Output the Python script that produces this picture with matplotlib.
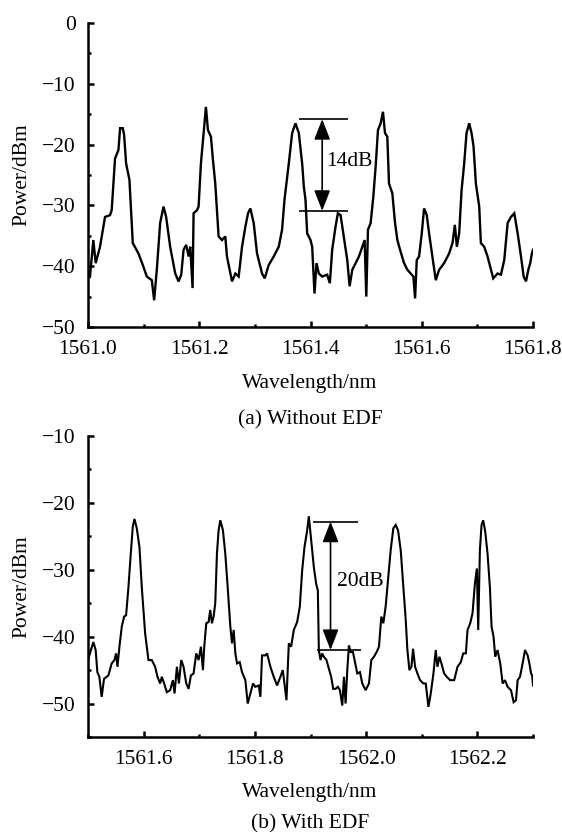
import matplotlib
matplotlib.use('Agg')
import matplotlib.pyplot as plt
from matplotlib.ticker import MultipleLocator, FormatStrFormatter

plt.rcParams['font.family'] = ['Liberation Serif', 'DejaVu Serif']
plt.rcParams['axes.unicode_minus'] = True

# ---------------- data: (a) Without EDF ----------------
wl_a = [1561.000, 1561.0036, 1561.0096, 1561.0138, 1561.0216, 1561.0306, 1561.0396, 1561.0426,
        1561.0486, 1561.0547, 1561.0577, 1561.0625, 1561.0649, 1561.0685, 1561.0745, 1561.0805,
        1561.0907, 1561.0997, 1561.1057, 1561.1147, 1561.1189, 1561.1237, 1561.1297, 1561.1357,
        1561.1405, 1561.1477, 1561.1568, 1561.1628, 1561.1676, 1561.1718, 1561.1766, 1561.1808,
        1561.1838, 1561.1880, 1561.1898, 1561.1958, 1561.1988, 1561.2030, 1561.2078, 1561.2120,
        1561.2156, 1561.2210, 1561.2246, 1561.2288, 1561.2348, 1561.2408, 1561.2468, 1561.2498,
        1561.2559, 1561.2589, 1561.2649, 1561.2709, 1561.2769, 1561.2829, 1561.2877, 1561.2919,
        1561.2979, 1561.3039, 1561.3129, 1561.3177, 1561.3249, 1561.3339, 1561.3429, 1561.3489,
        1561.3532, 1561.3610, 1561.3670, 1561.3730, 1561.3790, 1561.3850,
        1561.3880, 1561.3910, 1561.3940, 1561.4000, 1561.4030, 1561.4072, 1561.4108, 1561.4150,
        1561.4210, 1561.4300, 1561.4348, 1561.4390, 1561.4450, 1561.4492, 1561.4541, 1561.4589,
        1561.4661, 1561.4703, 1561.4751, 1561.4811, 1561.4871, 1561.4931, 1561.4973, 1561.5003,
        1561.5033, 1561.5081, 1561.5129, 1561.5171, 1561.5213, 1561.5261, 1561.5303, 1561.5339,
        1561.5381, 1561.5411, 1561.5471, 1561.5520, 1561.5562, 1561.5610, 1561.5682, 1561.5742,
        1561.5802, 1561.5850, 1561.5880, 1561.5910, 1561.5952, 1561.6000, 1561.6042, 1561.6090,
        1561.6132, 1561.6192, 1561.6252, 1561.6312, 1561.6402, 1561.6492, 1561.6553, 1561.6595,
        1561.6631, 1561.6673, 1561.6715, 1561.6763, 1561.6805, 1561.6853, 1561.6895, 1561.6931,
        1561.6973, 1561.7033, 1561.7063, 1561.7123, 1561.7183, 1561.7231, 1561.7285, 1561.7363,
        1561.7423, 1561.7483, 1561.7544, 1561.7604, 1561.7664, 1561.7724, 1561.7784, 1561.7832,
        1561.7874, 1561.7916, 1561.7950, 1561.7980, 1561.8000]
pw_a = [-41.5, -41.7, -35.7, -39.5, -36.8, -31.9, -31.6, -30.8,
        -22.3, -20.9, -17.3, -17.3, -18.4, -23.1, -25.8, -36.2,
        -37.9, -40.1, -41.7, -42.3, -45.6, -40.6, -32.9, -30.2,
        -31.9, -36.8, -41.2, -42.5, -41.4, -37.3, -36.5, -38.4,
        -36.8, -43.6, -31.3, -30.8, -30.2, -23.1, -18.1, -13.8,
        -17.6, -18.7, -22.5, -26.4, -35.1, -35.7, -35.1, -38.4,
        -41.2, -42.5, -41.2, -41.7, -36.8, -33.5, -31.3, -30.5,
        -32.9, -37.9, -41.2, -42.0, -39.8, -38.4, -36.8, -34.0,
        -29.1, -23.1, -18.1, -16.5, -18.1, -23.1,
        -26.9, -29.1, -34.6, -35.7, -36.8, -44.5, -39.5, -41.2,
        -41.7, -41.4, -42.8, -37.3, -33.5, -31.3, -31.6, -34.6,
        -39.0, -43.3, -40.6, -39.5, -38.4, -36.8, -35.7, -45.0,
        -34.0, -32.9, -28.6, -23.6, -17.6, -16.5, -14.6, -18.1,
        -18.7, -26.4, -28.0, -32.9, -35.7, -37.3, -39.5, -40.6,
        -41.2, -41.7, -45.3, -39.0, -38.4, -34.6, -30.5, -31.6,
        -34.6, -38.4, -42.3, -40.6, -39.5, -37.9, -36.2, -33.2,
        -36.8, -34.6, -27.6, -23.1, -18.1, -16.5, -18.1, -20.3,
        -26.4, -30.2, -36.2, -36.8, -38.4, -40.1, -42.0, -41.2,
        -41.4, -39.0, -32.9, -31.9, -31.3, -34.6, -38.4, -41.7,
        -42.5, -40.6, -39.5, -37.9, -37.3]

# ---------------- data: (b) With EDF ----------------
wl_b = [1561.5000, 1561.5036, 1561.5096, 1561.5138, 1561.5168, 1561.5204, 1561.5246, 1561.5288,
        1561.5366, 1561.5426, 1561.5474, 1561.5505, 1561.5529, 1561.5565, 1561.5607, 1561.5649,
        1561.5685, 1561.5727, 1561.5769, 1561.5805, 1561.5835, 1561.5877, 1561.5925, 1561.5967,
        1561.6027, 1561.6087, 1561.6147, 1561.6207, 1561.6249, 1561.6297, 1561.6327, 1561.6369,
        1561.6417, 1561.6477, 1561.6526, 1561.6556, 1561.6598, 1561.6634, 1561.6676, 1561.6718,
        1561.6766, 1561.6808, 1561.6850, 1561.6898, 1561.6946, 1561.6988, 1561.7030, 1561.7066,
        1561.7090, 1561.7126, 1561.7168, 1561.7198, 1561.7228, 1561.7258, 1561.7288, 1561.7318,
        1561.7348, 1561.7378, 1561.7426, 1561.7468, 1561.7511, 1561.7559, 1561.7589, 1561.7619,
        1561.7649, 1561.7679, 1561.7727, 1561.7769, 1561.7829, 1561.7871, 1561.7919, 1561.7967,
        1561.8009, 1561.8069, 1561.8099, 1561.8129, 1561.8189, 1561.8219, 1561.8279, 1561.8339,
        1561.8399, 1561.8459, 1561.8502, 1561.8568, 1561.8610, 1561.8652, 1561.8700, 1561.8760,
        1561.8808, 1561.8850, 1561.8892, 1561.8940, 1561.8970, 1561.9012, 1561.9060, 1561.9102,
        1561.9132,
        1561.9150, 1561.9180, 1561.9210, 1561.9240, 1561.9288, 1561.9330, 1561.9372, 1561.9408,
        1561.9450, 1561.9492, 1561.9529, 1561.9571, 1561.9601, 1561.9631, 1561.9661, 1561.9691,
        1561.9721, 1561.9763, 1561.9799, 1561.9841, 1561.9889, 1561.9931, 1561.9991, 1562.0051,
        1562.0093, 1562.0141, 1562.0189, 1562.0231, 1562.0273, 1562.0309, 1562.0351, 1562.0393,
        1562.0441, 1562.0489, 1562.0532, 1562.0574, 1562.0622, 1562.0670, 1562.0712, 1562.0742,
        1562.0778, 1562.0814, 1562.0844, 1562.0880, 1562.0922, 1562.0970, 1562.1030, 1562.1072,
        1562.1120, 1562.1162, 1562.1210, 1562.1252, 1562.1282, 1562.1318, 1562.1354, 1562.1402,
        1562.1450, 1562.1510, 1562.1583, 1562.1643, 1562.1703, 1562.1745, 1562.1793, 1562.1823,
        1562.1871, 1562.1913, 1562.1955, 1562.1991, 1562.2015, 1562.2045, 1562.2075, 1562.2105,
        1562.2141, 1562.2183, 1562.2225, 1562.2255, 1562.2291, 1562.2321, 1562.2363, 1562.2411,
        1562.2454, 1562.2496, 1562.2544, 1562.2604, 1562.2652, 1562.2694, 1562.2724, 1562.2766,
        1562.2814, 1562.2856, 1562.2904, 1562.2935, 1562.2965, 1562.2985, 1562.3000]
pw_b = [-43.5, -42.5, -40.8, -42.0, -45.3, -46.0, -49.0, -46.3,
        -45.8, -44.0, -43.5, -42.5, -44.5, -41.5, -38.5, -37.0,
        -36.8, -32.6, -27.6, -23.6, -22.4, -23.8, -26.6, -32.6,
        -39.5, -43.5, -43.5, -44.5, -46.0, -47.0, -46.0, -47.0,
        -48.3, -48.0, -46.5, -48.5, -44.5, -47.0, -43.5, -44.5,
        -47.0, -47.8, -45.8, -45.5, -42.5, -43.5, -41.5, -45.0,
        -41.5, -38.0, -37.8, -36.0, -38.0, -37.0, -35.0, -27.6,
        -24.1, -22.6, -24.1, -27.6, -32.6, -38.5, -41.0, -39.0,
        -42.5, -44.0, -43.8, -45.3, -46.5, -50.0, -48.5, -47.0,
        -47.5, -47.3, -49.0, -42.8, -42.8, -42.5, -44.5, -46.0,
        -47.3, -46.0, -45.0, -49.5, -41.0, -41.5, -39.0, -37.8,
        -35.5, -30.1, -26.6, -24.1, -22.0, -25.6, -29.6, -32.1,
        -33.1,
        -42.0, -43.5, -42.5, -43.0, -43.5, -44.8, -46.0, -47.8,
        -47.8, -47.5, -48.0, -50.3, -46.0, -50.0, -45.0, -41.3,
        -42.3, -42.3, -43.8, -45.5, -45.3, -47.0, -48.0, -47.0,
        -43.5, -43.0, -42.3, -41.5, -37.0, -38.0, -35.5, -31.6,
        -27.1, -23.8, -23.3, -24.1, -27.1, -32.6, -37.5, -42.0,
        -45.0, -44.5, -41.8, -44.5, -45.5, -46.5, -47.0, -47.0,
        -50.5, -48.5, -45.5, -42.0, -44.5, -43.0, -44.0, -45.5,
        -46.0, -46.5, -46.5, -44.5, -43.8, -42.5, -42.5, -39.0,
        -38.0, -36.5, -32.1, -29.8, -39.0, -27.1, -23.3, -22.6,
        -24.3, -27.6, -32.6, -38.5, -40.0, -43.0, -42.0, -44.0,
        -47.0, -46.5, -47.5, -48.0, -49.8, -49.5, -46.5, -46.0,
        -44.0, -42.0, -42.8, -44.0, -45.5, -45.8, -47.3]

# annotation values
ann_a = dict(x0=1561.379, x1=1561.467, top=-15.8, bot=-30.9, xarr=1561.421,
             label="14dB", xt=1561.428, yt=-22.8)
ann_b = dict(x0=1561.905, x1=1561.985, x0b=1561.912, x1b=1561.990, top=-22.8, bot=-42.0,
             xarr=1561.936, label="20dB", xt=1561.947, yt=-31.8)

FS = 15.5
fig = plt.figure(figsize=(5.62, 8.32), dpi=100)
ax1 = fig.add_axes([88/562, 1-327/832, 445/562, 304/832])
ax2 = fig.add_axes([88/562, 1-737/832, 445/562, 301/832])


def style(ax):
    for s in ['top', 'right']:
        ax.spines[s].set_visible(False)
    for s in ['left', 'bottom']:
        ax.spines[s].set_linewidth(1.8)
    ax.tick_params(which='major', direction='in', length=4, width=1.8, labelsize=FS)
    ax.tick_params(axis='x', which='major', pad=9)
    ax.tick_params(axis='y', which='major', pad=9)
    ax.tick_params(which='minor', direction='in', length=2, width=1.8)
    ax.xaxis.set_major_formatter(FormatStrFormatter('%.1f'))
    ax.xaxis.set_minor_locator(MultipleLocator(0.1))
    ax.yaxis.set_major_locator(MultipleLocator(10))
    ax.yaxis.set_minor_locator(MultipleLocator(5))
    ax.set_ylabel("Power/dBm", fontsize=FS)
    ax.yaxis.set_label_coords(-0.128, 0.5)


# (a)
ax1.plot(wl_a, pw_a, color='black', lw=1.7, solid_joinstyle='miter')
ax1.set_xlim(1561.0, 1561.8)
ax1.set_ylim(-50, 0)
ax1.xaxis.set_major_locator(MultipleLocator(0.2))
style(ax1)
ax1.hlines([ann_a['top'], ann_a['bot']], ann_a['x0'], ann_a['x1'], color='black', lw=1.2)
ax1.annotate('', xy=(ann_a['xarr'], ann_a['top']), xytext=(ann_a['xarr'], ann_a['bot']),
             arrowprops=dict(arrowstyle='<|-|>,head_length=0.9,head_width=0.35',
                             mutation_scale=14, color='black', lw=1.2, shrinkA=0, shrinkB=0))
ax1.text(ann_a['xt'], ann_a['yt'], ann_a['label'], fontsize=FS, ha='left', va='center')

# (b)
ax2.plot(wl_b, pw_b, color='black', lw=1.5, solid_joinstyle='miter')
ax2.set_xlim(1561.5, 1562.3)
ax2.set_ylim(-55, -10)
ax2.set_xticks([1561.6, 1561.8, 1562.0, 1562.2])
style(ax2)
ax2.hlines(ann_b['top'], ann_b['x0'], ann_b['x1'], color='black', lw=1.2)
ax2.hlines(ann_b['bot'], ann_b['x0b'], ann_b['x1b'], color='black', lw=1.2)
ax2.annotate('', xy=(ann_b['xarr'], ann_b['top']), xytext=(ann_b['xarr'], ann_b['bot']),
             arrowprops=dict(arrowstyle='<|-|>,head_length=0.9,head_width=0.35',
                             mutation_scale=14, color='black', lw=1.2, shrinkA=0, shrinkB=0))
ax2.text(ann_b['xt'], ann_b['yt'], ann_b['label'], fontsize=FS, ha='left', va='center')

# axis titles and captions
fig.text(310/562, 1-388/832, "Wavelength/nm", fontsize=FS, ha='center', va='baseline')
fig.text(310/562, 1-424/832, "(a) Without EDF", fontsize=FS, ha='center', va='baseline')
fig.text(310/562, 1-797/832, "Wavelength/nm", fontsize=FS, ha='center', va='baseline')
fig.text(310/562, 1-828/832, "(b) With EDF", fontsize=FS, ha='center', va='baseline')

fig.savefig('out.png', dpi=100)
